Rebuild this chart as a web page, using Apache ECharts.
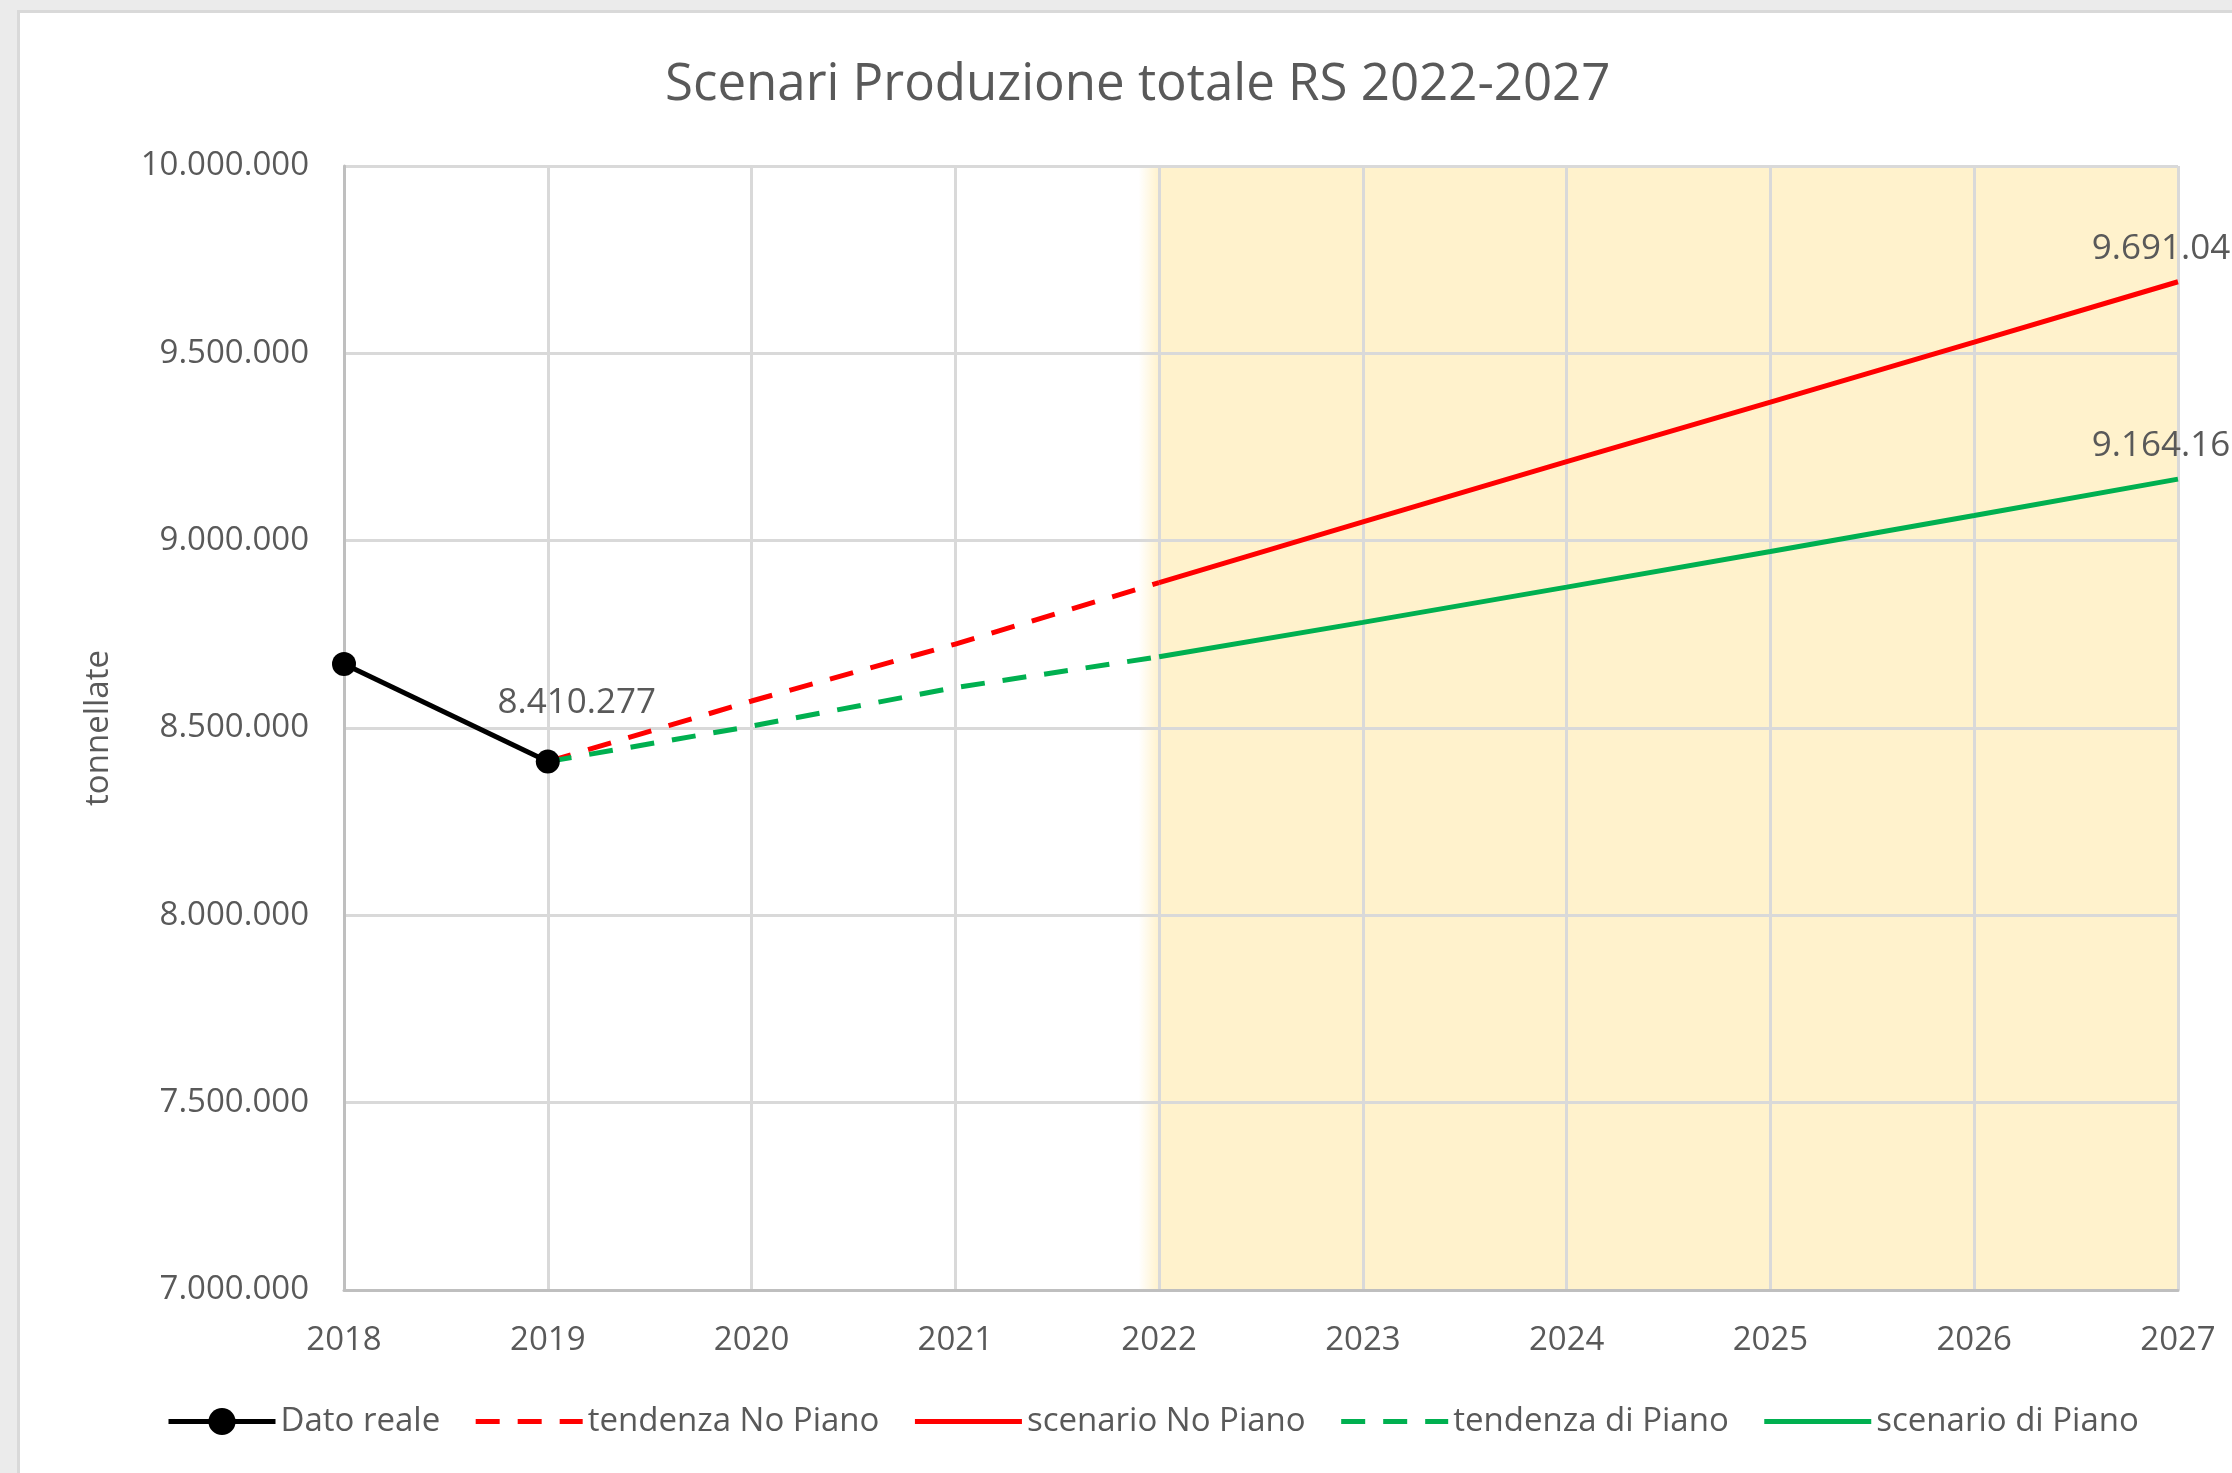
<!DOCTYPE html>
<html>
<head>
<meta charset="utf-8">
<title>Scenari Produzione totale RS 2022-2027</title>
<script src="https://cdn.jsdelivr.net/npm/echarts@6/dist/echarts.min.js"></script>
<style>
  html, body { margin: 0; padding: 0; background: #ebebeb; overflow: hidden; }
  #chart {
    position: absolute;
    left: 17px; top: 10px;
    width: 2212px; height: 1460px;
    background: #fff;
    border-left: 3px solid #d9d9d9;
    border-top: 3px solid #d9d9d9;
  }
</style>
</head>
<body>
<div id="chart"></div>
<script>
// anni sull'asse x
const years = [2018, 2019, 2020, 2021, 2022, 2023, 2024, 2025, 2026, 2027]
// valori (tonnellate)
const datoReale       = [8671000, 8410277, null, null, null, null, null, null, null, null]
const tendenzaNoPiano = [null, 8410277, 8572000, 8724000, 8888000, null, null, null, null, null]
const scenarioNoPiano = [null, null, null, null, 8888000, 9050000, 9211000, 9370000, 9530000, 9691045]
const tendenzaPiano   = [null, 8410277, 8505000, 8608000, 8690000, null, null, null, null, null]
const scenarioPiano   = [null, null, null, null, 8690000, 8782000, 8876000, 8971000, 9067000, 9164165]
const yTicks = [7000000, 7500000, 8000000, 8500000, 9000000, 9500000, 10000000]

const font = '"Open Sans", "Noto Sans", sans-serif'
const grey = '#595959'
const red = '#ff0000'
const green = '#00b050'

// separatore migliaia col punto
const fmt = v => String(Math.round(v)).replace(/\B(?=(\d{3})+(?!\d))/g, '.')
const pairs = arr => years.map((y, i) => [y, arr[i]])

const chart = echarts.init(document.getElementById('chart'))

const labelStyle = {
  show: true,
  position: 'top',
  distance: 19,
  fontFamily: font,
  fontSize: 35,
  color: grey,
  formatter: p => fmt(p.value[1])
}
// etichetta solo sull'ultimo punto
const lastLabel = arr => pairs(arr).map((d, i) => i === years.length - 1
  ? { value: d, label: Object.assign({}, labelStyle, { offset: [-7, 4] }) }
  : d)

// linea senza marker visibile (anche in legenda)
const plainLine = (name, data, color, dashed) => ({
  name: name,
  type: 'line',
  z: 5,
  data: data,
  symbol: 'circle',
  symbolSize: 1,
  lineStyle: { color: color, width: 5, type: dashed ? [24, 18] : 'solid' },
  itemStyle: { color: 'rgba(0,0,0,0)' }
})

const option = {
  animation: false,
  title: {
    text: 'Scenari Produzione totale RS 2022-2027',
    left: 645,
    top: 47,
    padding: 0,
    textStyle: { fontFamily: font, fontSize: 51, fontWeight: 'normal', color: grey }
  },
  legend: {
    data: ['Dato reale', 'tendenza No Piano', 'scenario No Piano', 'tendenza di Piano', 'scenario di Piano'],
    left: 141,
    top: 1387,
    itemWidth: 107,
    itemHeight: 34,
    itemGap: 33,
    lineStyle: { width: 5 },
    textStyle: { fontFamily: font, fontSize: 33, color: grey }
  },
  grid: { left: 324, top: 153, right: 54, bottom: 183 },
  xAxis: {
    type: 'value',
    z: 3,
    min: 2018,
    max: 2027,
    interval: 1,
    axisLine: { lineStyle: { color: '#bfbfbf', width: 3 } },
    axisTick: { show: false },
    axisLabel: { margin: 34, fontFamily: font, fontSize: 33, color: grey, formatter: v => String(v) },
    splitLine: { lineStyle: { color: '#d9d9d9', width: 3 } }
  },
  yAxis: {
    type: 'value',
    z: 3,
    min: yTicks[0],
    max: yTicks[yTicks.length - 1],
    interval: 500000,
    name: 'tonnellate',
    nameLocation: 'middle',
    nameRotate: 90,
    nameGap: 229,
    nameTextStyle: { fontFamily: font, fontSize: 33, color: grey },
    axisLine: { show: true, lineStyle: { color: '#bfbfbf', width: 3 } },
    axisTick: { show: false },
    axisLabel: { margin: 35, padding: [8, 0, 0, 0], fontFamily: font, fontSize: 33, color: grey, formatter: fmt },
    splitLine: { lineStyle: { color: '#d9d9d9', width: 3 } }
  },
  series: [
    {
      // fascia evidenziata 2022-2027, sotto la griglia
      name: 'area',
      type: 'line',
      data: [],
      z: 1,
      silent: true,
      markArea: {
        silent: true,
        z: -1,
        data: [
          [{ xAxis: 2021.9, itemStyle: { color: new echarts.graphic.LinearGradient(0, 0, 1, 0, [
            { offset: 0, color: 'rgba(255,242,204,0)' },
            { offset: 1, color: '#fff2cc' }
          ]) } }, { xAxis: 2022 }],
          [{ xAxis: 2022, itemStyle: { color: '#fff2cc' } }, { xAxis: 2027 }]
        ]
      }
    },
    plainLine('tendenza No Piano', pairs(tendenzaNoPiano), red, true),
    plainLine('scenario No Piano', lastLabel(scenarioNoPiano), red, false),
    plainLine('tendenza di Piano', pairs(tendenzaPiano), green, true),
    plainLine('scenario di Piano', lastLabel(scenarioPiano), green, false),
    {
      name: 'Dato reale',
      type: 'line',
      z: 6,
      data: pairs(datoReale).map((d, i) => i === 1
        ? { value: d, label: Object.assign({}, labelStyle, { offset: [29, -10] }) }
        : d),
      symbol: 'circle',
      symbolSize: 24,
      lineStyle: { color: '#000', width: 5 },
      itemStyle: { color: '#000' }
    }
  ]
}

chart.setOption(option)
</script>
</body>
</html>
